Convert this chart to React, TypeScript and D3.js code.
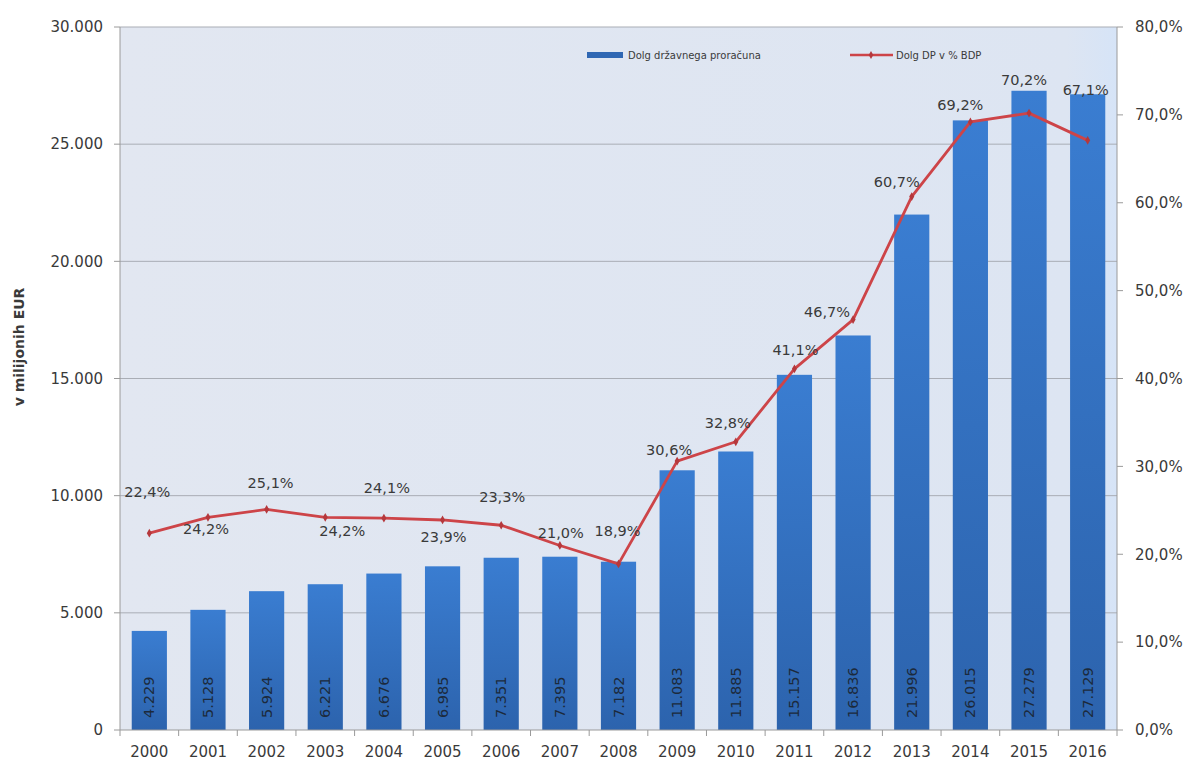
import React from "react";
import * as d3 from "d3";

const years = ["2000","2001","2002","2003","2004","2005","2006","2007","2008","2009","2010","2011","2012","2013","2014","2015","2016"];
const debtValues = [4229,5128,5924,6221,6676,6985,7351,7395,7182,11083,11885,15157,16836,21996,26015,27279,27129];
const debtPctGdp = [22.4,24.2,25.1,24.2,24.1,23.9,23.3,21.0,18.9,30.6,32.8,41.1,46.7,60.7,69.2,70.2,67.1];
const leftTicks = [0,5000,10000,15000,20000,25000,30000];
const rightTicks = [0,10,20,30,40,50,60,70,80];
const barSeriesName = "Dolg državnega proračuna";
const lineSeriesName = "Dolg DP v % BDP";
const yAxisTitle = "v milijonih EUR";

// label placement (layout only): offset of each percentage label from its point
const pctLabelOffsets: [number, number][] = [
  [-2,-41],[-2,12],[4,-27],[17,14],[3,-30],[1,17],[1,-28],[1,-13],[-1,-33],
  [-8,-11],[-8,-19],[1,-19],[-26,-8],[-15,-15],[-10,-17],[-5,-33],[-2,-50]
];

const W = 1188, H = 765;
const L = 120, R = 1117, T = 27, B = 730;
const FONT = "'DejaVu Sans', Verdana, sans-serif";

const loc = d3.formatLocale({ decimal: ",", thousands: ".", grouping: [3], currency: ["", "€"] });
const fmtInt = loc.format(",d");
const fmtPct = (v: number) => loc.format(".1f")(v) + "%";

export default function App() {
  const x = d3.scaleBand<string>().domain(years).range([L, R]).paddingInner(0.4).paddingOuter(0.2);
  const yL = d3.scaleLinear().domain([0, 30000]).range([B, T]);
  const yR = d3.scaleLinear().domain([0, 80]).range([B, T]);
  const cx = (yr: string) => (x(yr) as number) + x.bandwidth() / 2;

  const line = d3.line<number>()
    .x((_, i) => cx(years[i]))
    .y((d) => yR(d));

  const textColor = "#3a3a3a";

  return (
    <svg width={W} height={H} style={{ position: "absolute", left: 0, top: 0, background: "#fff" }}
      fontFamily={FONT}>
      <defs>
        <linearGradient id="plotBg" x1="0" y1="0" x2="1" y2="0">
          <stop offset="0" stopColor="#e2e7f1" />
          <stop offset="0.95" stopColor="#dde5f2" />
          <stop offset="1" stopColor="#d6e4f7" />
        </linearGradient>
        <linearGradient id="barGrad" x1="0" y1="0" x2="0" y2="1">
          <stop offset="0" stopColor="#3a7dd1" />
          <stop offset="1" stopColor="#2c63ad" />
        </linearGradient>
      </defs>

      <rect x={L} y={T} width={R - L} height={B - T} fill="url(#plotBg)" />

      {/* gridlines */}
      {leftTicks.filter((t) => t > 0).map((t) => (
        <line key={"g" + t} x1={L} x2={R} y1={yL(t)} y2={yL(t)} stroke="#a9adb5" strokeWidth={1} />
      ))}

      {/* bars */}
      {years.map((yr, i) => (
        <rect key={"b" + yr} x={x(yr)} y={yL(debtValues[i])} width={x.bandwidth()}
          height={B - yL(debtValues[i])} fill="url(#barGrad)" />
      ))}

      {/* bar labels */}
      {years.map((yr, i) => (
        <text key={"bl" + yr} transform={`translate(${cx(yr) + 5},${B - 12}) rotate(-90)`}
          fontSize={14.5} fill="#1c2a3c" textAnchor="start">{fmtInt(debtValues[i])}</text>
      ))}

      {/* axes lines */}
      <line x1={L} x2={L} y1={T} y2={B} stroke="#9a9a9a" />
      <line x1={R} x2={R} y1={T} y2={B} stroke="#9a9a9a" />
      <line x1={L} x2={R} y1={B} y2={B} stroke="#9a9a9a" />

      {/* left ticks */}
      {leftTicks.map((t) => (
        <g key={"lt" + t}>
          <line x1={L - 6} x2={L} y1={yL(t)} y2={yL(t)} stroke="#9a9a9a" />
          <text x={103} y={yL(t)} dy="0.35em" textAnchor="end" fontSize={15} fill={textColor}>{fmtInt(t)}</text>
        </g>
      ))}

      {/* right ticks */}
      {rightTicks.map((t) => (
        <g key={"rt" + t}>
          <line x1={R} x2={R + 6} y1={yR(t)} y2={yR(t)} stroke="#9a9a9a" />
          <text x={1135} y={yR(t)} dy="0.35em" textAnchor="start" fontSize={15} fill={textColor}>{fmtPct(t)}</text>
        </g>
      ))}

      {/* x ticks and labels */}
      {years.map((yr, i) => (
        <g key={"x" + yr}>
          {i > 0 && (
            <line x1={(x(yr) as number) - (x.step() - x.bandwidth()) / 2}
              x2={(x(yr) as number) - (x.step() - x.bandwidth()) / 2}
              y1={B} y2={B + 6} stroke="#9a9a9a" />
          )}
          <text x={cx(yr)} y={757} textAnchor="middle" fontSize={15} fill={textColor}>{yr}</text>
        </g>
      ))}
      <line x1={L} x2={L} y1={B} y2={B + 6} stroke="#9a9a9a" />
      <line x1={R} x2={R} y1={B} y2={B + 6} stroke="#9a9a9a" />

      {/* line series */}
      <path d={line(debtPctGdp) || ""} fill="none" stroke="#cd4448" strokeWidth={2.8} strokeLinejoin="round" />
      {debtPctGdp.map((v, i) => (
        <path key={"m" + i} transform={`translate(${cx(years[i])},${yR(v)})`}
          d={d3.symbol(d3.symbolDiamond, 22)() || ""} fill="#b5383c" />
      ))}
      {debtPctGdp.map((v, i) => (
        <text key={"pl" + i} x={cx(years[i]) + pctLabelOffsets[i][0]} y={yR(v) + pctLabelOffsets[i][1]}
          dy="0.35em" textAnchor="middle" fontSize={14.5} fill={textColor}>{fmtPct(v)}</text>
      ))}

      {/* y axis title */}
      <text transform={`translate(24,347) rotate(-90)`} textAnchor="middle" fontSize={14}
        fontWeight="bold" fill={textColor}>{yAxisTitle}</text>

      {/* legend */}
      <rect x={587} y={52} width={36} height={6} fill="#2f67b3" />
      <text x={628} y={55} dy="0.35em" fontSize={10} fill={textColor}>{barSeriesName}</text>
      <line x1={850} x2={893} y1={55} y2={55} stroke="#cd4448" strokeWidth={2.5} />
      <path transform="translate(871,55)" d={d3.symbol(d3.symbolDiamond, 18)() || ""} fill="#b5383c" />
      <text x={896} y={55} dy="0.35em" fontSize={10} fill={textColor}>{lineSeriesName}</text>
    </svg>
  );
}
